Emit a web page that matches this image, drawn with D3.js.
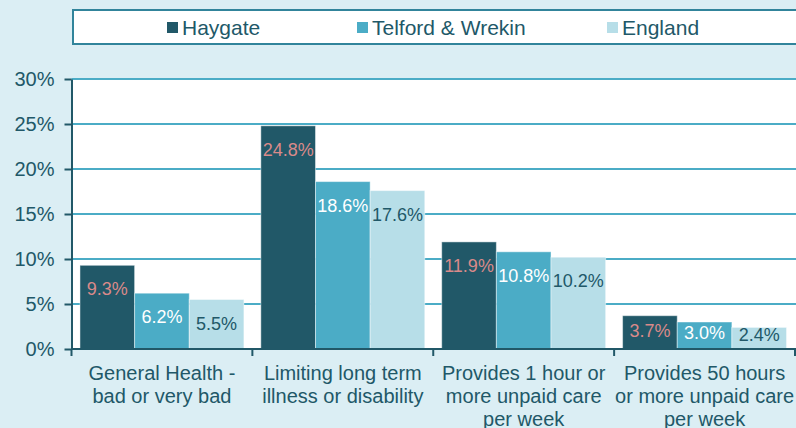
<!DOCTYPE html>
<html>
<head>
<meta charset="utf-8">
<script src="https://cdn.jsdelivr.net/npm/d3@7"></script>
<style>
  html, body { margin: 0; padding: 0; background: #dbeef4; }
  svg { display: block; font-family: "Liberation Sans", Arial, sans-serif; }
</style>
</head>
<body>
<svg id="drawing_region"></svg>
<script>

// categories (line breaks as in the original chart)
const categories = [
    "General Health -\nbad or very bad",
    "Limiting long term\nillness or disability",
    "Provides 1 hour or\nmore unpaid care\nper week",
    "Provides 50 hours\nor more unpaid care\nper week"
];

const seriesNames = ["Haygate", "Telford & Wrekin", "England"];

const haygate = [9.3, 24.8, 11.9, 3.7];
const telford = [6.2, 18.6, 10.8, 3.0];
const england = [5.5, 17.6, 10.2, 2.4];

const yTicks = [0, 5, 10, 15, 20, 25, 30];

const colors = ['#215868', '#4bacc6', '#b7dee8'];
const labelColors = ['#d98a8a', '#ffffff', '#215868'];
const textColor = '#215868';

const config = {
    width: 796,
    height: 428,
    margin: {top: 79, right: 0, bottom: 79, left: 71.5}
};

const series = [haygate, telford, england];

const svg = d3.select('#drawing_region')
    .attr('width', config.width)
    .attr('height', config.height);

const inner_width = 795 - config.margin.left;
const inner_height = config.height - config.margin.top - config.margin.bottom;

const chart = svg.append('g')
    .attr('transform', `translate(${config.margin.left}, ${config.margin.top})`);

// plot area
chart.append('rect')
    .attr('x', 0).attr('y', 0)
    .attr('width', config.width - config.margin.left)
    .attr('height', inner_height)
    .attr('fill', '#fff');

const xscale = d3.scaleBand()
    .domain(categories)
    .range([0, inner_width])
    .paddingInner(0)
    .paddingOuter(0);

const x1 = d3.scaleBand()
    .domain(seriesNames)
    .range([0, xscale.bandwidth()])
    .paddingOuter(0.155)
    .paddingInner(0);

const yscale = d3.scaleLinear()
    .domain([0, 30])
    .range([inner_height, 0]);

// gridlines
chart.append('g')
    .selectAll('line')
    .data(yTicks.filter(d => d > 0))
    .join('line')
    .attr('x1', 0)
    .attr('x2', config.width - config.margin.left)
    .attr('y1', d => yscale(d))
    .attr('y2', d => yscale(d))
    .attr('stroke', '#4bacc6')
    .attr('stroke-width', 2);

// bars
const groups = chart.append('g')
    .selectAll('g')
    .data(categories)
    .join('g')
    .attr('transform', d => `translate(${xscale(d)},0)`);

groups.selectAll('rect')
    .data((c, i) => seriesNames.map((s, j) => ({s: s, j: j, v: series[j][i]})))
    .join('rect')
    .attr('x', d => x1(d.s))
    .attr('y', d => yscale(d.v))
    .attr('width', x1.bandwidth())
    .attr('height', d => inner_height - yscale(d.v))
    .attr('fill', d => colors[d.j])
    .attr('stroke', 'rgba(255,255,255,0.45)')
    .attr('stroke-width', 1);

// data labels
groups.selectAll('text')
    .data((c, i) => seriesNames.map((s, j) => ({s: s, j: j, v: series[j][i]})))
    .join('text')
    .attr('x', d => x1(d.s) + x1.bandwidth() / 2)
    .attr('y', d => {
        const h = inner_height - yscale(d.v);
        return yscale(d.v) + Math.min(30, h * 0.6 + 1);
    })
    .attr('text-anchor', 'middle')
    .attr('font-size', 18)
    .attr('fill', d => labelColors[d.j])
    .text(d => d.v.toFixed(1) + '%');

// y axis
const yaxis = d3.axisLeft(yscale)
    .tickValues(yTicks)
    .tickFormat(d => d + '%')
    .tickSize(7)
    .tickSizeOuter(0)
    .tickPadding(10);

const yaxis_group = chart.append('g').call(yaxis);
yaxis_group.select('.domain').attr('stroke', textColor).attr('stroke-width', 2);
yaxis_group.selectAll('.tick line').attr('stroke', textColor).attr('stroke-width', 2);
yaxis_group.selectAll('.tick text')
    .attr('font-size', 20)
    .attr('fill', textColor)
    .attr('font-family', '"Liberation Sans", Arial, sans-serif');

// x axis
const xaxis_group = chart.append('g')
    .attr('transform', `translate(0, ${inner_height})`);

xaxis_group.append('line')
    .attr('x1', 0).attr('x2', config.width - config.margin.left)
    .attr('stroke', textColor)
    .attr('stroke-width', 2);

xaxis_group.selectAll('line.tk')
    .data(categories.map(c => xscale(c)).concat([inner_width]))
    .join('line')
    .attr('class', 'tk')
    .attr('x1', d => d).attr('x2', d => d)
    .attr('y1', 0).attr('y2', 7)
    .attr('stroke', textColor)
    .attr('stroke-width', 2);

const catLabels = xaxis_group.selectAll('text')
    .data(categories)
    .join('text')
    .attr('x', d => xscale(d) + xscale.bandwidth() / 2)
    .attr('y', 31)
    .attr('text-anchor', 'middle')
    .attr('font-size', 20)
    .attr('fill', textColor);

catLabels.selectAll('tspan')
    .data(d => d.split('\n'))
    .join('tspan')
    .attr('x', function () { return d3.select(this.parentNode).attr('x'); })
    .attr('dy', (d, i) => i === 0 ? 0 : 23)
    .text(d => d);

// legend
const legend = svg.append('g');
legend.append('rect')
    .attr('x', 73).attr('y', 10)
    .attr('width', 740).attr('height', 34)
    .attr('fill', '#fff')
    .attr('stroke', '#31849b')
    .attr('stroke-width', 2);

const legendX = [167, 357, 607];
const items = legend.selectAll('g.item')
    .data(seriesNames)
    .join('g')
    .attr('class', 'item')
    .attr('transform', (d, i) => `translate(${legendX[i]}, 22)`);

items.append('rect')
    .attr('width', 11).attr('height', 11)
    .attr('fill', (d, i) => colors[i]);

items.append('text')
    .attr('x', 15)
    .attr('y', 12.5)
    .attr('font-size', 21)
    .attr('fill', textColor)
    .text(d => d);

</script>
</body>
</html>
